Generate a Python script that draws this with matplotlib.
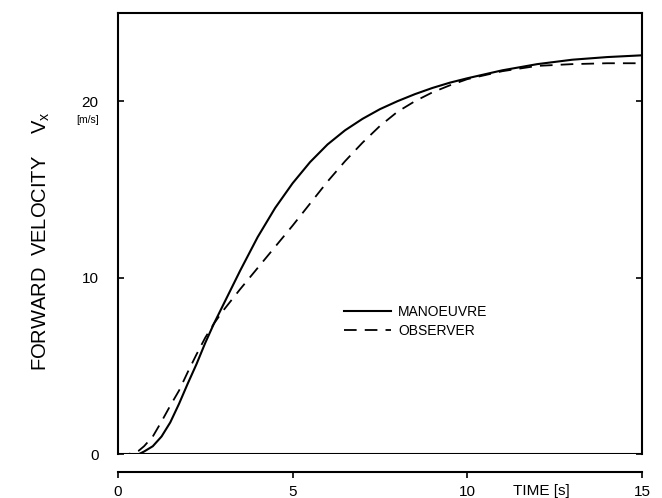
import numpy as np
import matplotlib
matplotlib.use('Agg')
import matplotlib.pyplot as plt

plt.rcParams['font.family'] = ['Liberation Sans', 'DejaVu Sans']

# time [s]
t = [0, 0.3, 0.6, 0.75, 1.0, 1.25, 1.5, 1.75, 2.0, 2.25, 2.5, 2.75, 3.0, 3.5, 4.0, 4.5,
     5.0, 5.5, 6.0, 6.5, 7.0, 7.5, 8.0, 8.5, 9.0, 9.5, 10, 11, 12, 13, 14, 15]
# forward velocity Vx [m/s]
manoeuvre = [0, 0, 0.0, 0.15, 0.45, 1.0, 1.8, 2.85, 4.0, 5.1, 6.3, 7.4, 8.4, 10.4, 12.3, 13.95,
             15.35, 16.55, 17.55, 18.35, 19.0, 19.55, 20.0, 20.4, 20.75, 21.05, 21.3, 21.75, 22.1, 22.35, 22.5, 22.6]
observer = [0, 0.0, 0.2, 0.45, 1.0, 1.85, 2.75, 3.6, 4.65, 5.65, 6.6, 7.4, 8.1, 9.35, 10.55, 11.75,
            12.95, 14.2, 15.45, 16.6, 17.65, 18.6, 19.4, 20.0, 20.5, 20.9, 21.25, 21.7, 22.0, 22.1, 22.15, 22.15]

fig = plt.figure(figsize=(6.62, 4.98), dpi=100)
ax = fig.add_axes([0.178, 0.088, 0.792, 0.886])

ax.plot(t, manoeuvre, color='k', lw=1.5, label='MANOEUVRE')
ax.plot(t, observer, color='k', lw=1.3, dashes=(7, 4.5), label='OBSERVER')

ax.set_xlim(0, 15)
ax.set_ylim(0, 25)

for s in ['left', 'right', 'top']:
    ax.spines[s].set_linewidth(1.5)
ax.spines['bottom'].set_position(('outward', 13))
ax.spines['bottom'].set_linewidth(1.5)
ax.axhline(0, color='k', lw=1.5)

ax.set_xticks([0, 5, 10, 15])
ax.set_xticklabels(['0', '5', '10', '15'])
ax.tick_params(axis='x', direction='out', length=4, width=1.2, labelsize=11, pad=5)
ax.set_yticks([0, 10, 20])
ax.tick_params(axis='y', direction='in', length=4, width=1.2, labelsize=11, pad=14,
               right=True)

fig.text(541 / 662, 1 - 491 / 498, 'TIME [s]', fontsize=11, ha='center', va='center')
fig.text(0.062, 0.516, 'FORWARD  VELOCITY    $\\mathregular{V_x}$', rotation=90,
         fontsize=14.5, ha='center', va='center')
fig.text(0.132, 0.759, '[m/s]', fontsize=7.5, ha='center', va='center')

ax.legend(loc='upper left', bbox_to_anchor=(6.47, 8.47), bbox_transform=ax.transData,
          frameon=False, fontsize=10, handlelength=3.4, handletextpad=0.5,
          labelspacing=0.4, borderpad=0, borderaxespad=0)

fig.savefig('out.png', dpi=100)
